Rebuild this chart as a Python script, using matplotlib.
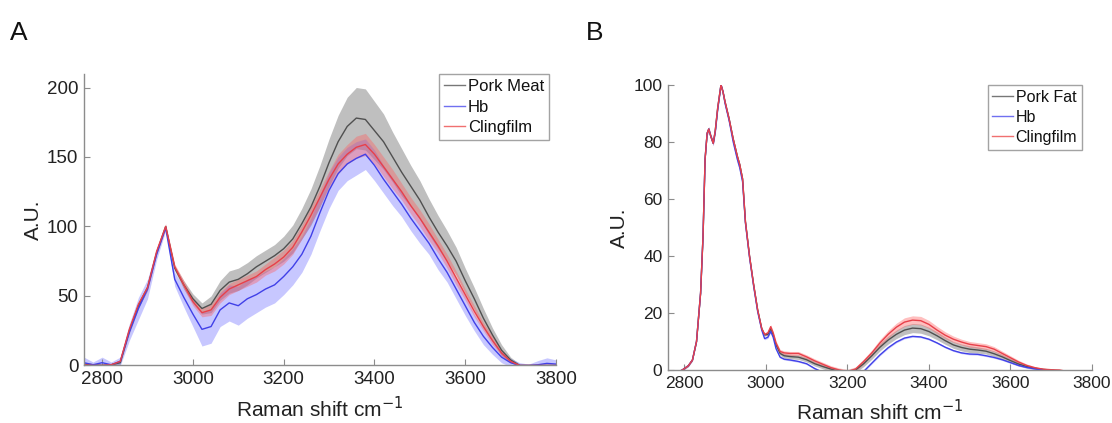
import matplotlib
matplotlib.use("Agg")
import matplotlib.pyplot as plt
from matplotlib.lines import Line2D
import numpy as np

plt.rcParams['font.family'] = ['Liberation Sans', 'DejaVu Sans']

# ---- panel A: pork meat vs Hb vs clingfilm (mean +/- sd) ----
shift_a = [2760, 2780, 2800, 2820, 2840, 2860, 2880, 2900, 2920, 2940,
           2960, 2980, 3000, 3020, 3040, 3060, 3080, 3100, 3120, 3140,
           3160, 3180, 3200, 3220, 3240, 3260, 3280, 3300, 3320, 3340,
           3360, 3380, 3400, 3420, 3440, 3460, 3480, 3500, 3520, 3540,
           3560, 3580, 3600, 3620, 3640, 3660, 3680, 3700, 3720, 3740,
           3760, 3780, 3800]
meat_mean = [1, 0.5, 0, 0.5, 2, 25, 43, 56, 81, 100,
             70, 58, 48, 41, 44, 54, 60, 62, 66, 71,
             75, 79, 84, 91, 102, 114, 129, 146, 161, 172,
             178, 177, 169, 161, 150, 139, 129, 119, 107, 96,
             86, 75, 61, 48, 34, 22, 11, 4, 0, 0,
             0, 0, 0]
meat_sd = [1, 1, 1, 1, 1, 2, 2, 2, 1.5, 1,
           2, 3, 3.5, 4, 6, 7, 8, 8, 8, 8,
           8, 8, 9, 10, 11, 13, 15, 17, 19, 21,
           22, 22, 21, 20, 18, 17, 15, 14, 13, 12,
           11, 10, 9, 8, 7, 5, 4, 2, 1, 0.5,
           0.5, 0.5, 0.5]
hb_a_mean = [2, 0.5, 2, 0.5, 3, 24, 41, 55, 80, 99,
             62, 49, 37, 26, 28, 40, 45, 43, 48, 51,
             55, 58, 64, 71, 80, 93, 110, 126, 138, 145,
             149, 152, 144, 134, 125, 116, 106, 97, 88, 77,
             67, 55, 43, 31, 21, 13, 6, 2, 0, 0,
             0.5, 1.5, 1]
hb_a_sd = [4, 2, 4, 2, 3, 6, 8, 7, 4, 2,
           5, 7, 9, 12, 12, 12, 13, 14, 14, 13,
           13, 13, 13, 13, 13, 13, 13, 13, 12, 12,
           12, 11, 11, 10, 10, 9, 9, 9, 8, 8,
           7, 7, 7, 6, 6, 5, 4, 3, 2, 1,
           3, 4, 3]
film_a_mean = [0.5, 0, 0, 0.5, 3, 26, 44, 56, 82, 100,
               71, 58, 46, 38, 40, 49, 55, 58, 61, 64,
               69, 73, 78, 85, 96, 108, 121, 134, 145, 152,
               157, 159, 152, 143, 134, 125, 115, 106, 96, 86,
               75, 63, 51, 39, 28, 18, 9, 3, 0, 0,
               0, 0, 0]
film_a_sd = [0.8, 0.8, 0.8, 0.8, 0.8, 2, 2, 2, 2, 2,
             2, 3, 3, 3, 4, 4, 4, 4, 4, 4,
             4, 5, 5, 5, 5, 6, 6, 6, 7, 7,
             8, 8, 7, 7, 7, 6, 6, 6, 6, 5,
             5, 5, 4, 4, 3, 3, 2, 1, 0.5, 0.5,
             0.5, 0.5, 0.5]

# ---- panel B: pork fat vs Hb vs clingfilm ----
shift_b = [2760, 2780, 2795, 2810, 2820, 2830, 2840, 2846, 2851, 2856,
           2860, 2865, 2871, 2876, 2882, 2890, 2895, 2900, 2910, 2920,
           2930, 2936, 2943, 2950, 2960, 2970, 2980, 2990, 2997, 3005,
           3012, 3018, 3025, 3035, 3045, 3060, 3080, 3100, 3120, 3140,
           3160, 3180, 3200, 3220, 3240, 3260, 3280, 3300, 3320, 3340,
           3360, 3380, 3400, 3420, 3440, 3460, 3480, 3500, 3520, 3540,
           3560, 3580, 3600, 3620, 3640, 3660, 3680, 3700, 3720, 3740,
           3760, 3780, 3800]
fat_mean = [-2, -1, 0, 1.5, 3.5, 10, 27, 47, 74, 83,
            84.5, 82, 79.5, 84, 92, 100, 97.5, 94, 88, 81,
            75, 72, 67, 52, 40, 30, 21, 14.5, 12.3, 12.5,
            14.5, 12.4, 8.8, 5.8, 5, 4.7, 4.5, 3.6, 2.2, 1.2,
            0.3, -0.5, -1, 0, 2.2, 5, 8, 10.5, 12.5, 14,
            14.7, 14.5, 13.5, 12, 10.3, 8.8, 7.9, 7.3, 7, 6.6,
            5.7, 4.6, 3.3, 2.1, 1.2, 0.6, 0.2, 0, -0.5, -1,
            -1, -1, -1]
fat_sd = [0.3, 0.3, 0.3, 0.3, 0.3, 0.3, 0.3, 0.4, 0.5, 0.5,
          0.5, 0.5, 0.5, 0.5, 0.5, 0.5, 0.5, 0.5, 0.5, 0.5,
          0.5, 0.5, 0.5, 0.4, 0.4, 0.4, 0.4, 0.4, 0.4, 0.4,
          0.5, 0.5, 0.6, 0.7, 0.8, 0.8, 0.8, 0.8, 0.8, 0.8,
          0.8, 0.8, 0.8, 0.9, 1.0, 1.2, 1.3, 1.4, 1.5, 1.6,
          1.6, 1.6, 1.5, 1.4, 1.3, 1.2, 1.2, 1.2, 1.1, 1.0,
          1.0, 0.9, 0.8, 0.7, 0.5, 0.4, 0.3, 0.3, 0.3, 0.3,
          0.3, 0.3, 0.3]
hb_b_mean = [-2, -1, 0, 1.5, 3.5, 10, 27, 47, 74, 83,
             84.5, 82, 79.5, 83.5, 91.5, 100, 97.5, 93.5, 87.5, 80,
             74, 71, 66, 51.5, 39.5, 29.5, 20.5, 14, 11, 11.5,
             13.5, 11.5, 7.5, 4.5, 3.8, 3.5, 3, 2.2, 0.5, -0.8,
             -2, -3, -3, -2, -0.5, 2.4, 5.3, 7.8, 9.8, 11.2,
             11.8, 11.6, 10.8, 9.5, 8, 6.8, 6, 5.6, 5.5, 5,
             4.4, 3.6, 2.6, 1.6, 0.9, 0.4, 0, -0.3, -0.5, -1,
             -1, -1, -1]
hb_b_sd = [0.3, 0.3, 0.3, 0.3, 0.3, 0.3, 0.4, 0.6, 0.8, 0.9,
           0.9, 0.9, 0.9, 0.9, 0.8, 0.6, 0.8, 1.0, 1.2, 1.3,
           1.4, 1.4, 1.2, 0.8, 0.6, 0.5, 0.4, 0.4, 0.4, 0.4,
           0.4, 0.4, 0.4, 0.3, 0.3, 0.3, 0.3, 0.3, 0.3, 0.3,
           0.3, 0.3, 0.3, 0.3, 0.3, 0.3, 0.3, 0.3, 0.3, 0.3,
           0.3, 0.3, 0.3, 0.3, 0.3, 0.3, 0.3, 0.3, 0.3, 0.3,
           0.3, 0.3, 0.3, 0.3, 0.3, 0.3, 0.3, 0.3, 0.3, 0.3,
           0.3, 0.3, 0.3]
film_b_mean = [-2, -1, 0, 1.5, 3.5, 10, 27, 47, 74, 83,
               84.5, 82, 79.5, 84, 92, 100, 97.5, 94, 88, 81,
               75, 72, 67, 52, 40, 30, 21, 14.5, 12.5, 13,
               15.2, 13, 9.5, 6.5, 6, 5.8, 5.8, 4.6, 3.2, 2,
               0.8, 0, -0.5, 0.3, 3, 6, 9.5, 12.5, 15, 16.8,
               17.5, 17.3, 16, 14, 12.2, 10.8, 9.8, 9, 8.6, 8.2,
               7.3, 5.8, 4.3, 2.8, 1.6, 0.8, 0.3, 0.1, 0, -0.5,
               -1, -1, -1]
film_b_sd = [0.3, 0.3, 0.3, 0.3, 0.3, 0.4, 0.5, 0.6, 0.7, 0.8,
             0.8, 0.8, 0.7, 0.7, 0.6, 0.5, 0.6, 0.6, 0.6, 0.6,
             0.6, 0.6, 0.6, 0.5, 0.5, 0.5, 0.5, 0.5, 0.5, 0.6,
             0.7, 0.7, 0.7, 0.7, 0.7, 0.7, 0.7, 0.7, 0.7, 0.7,
             0.7, 0.7, 0.7, 0.8, 0.9, 1.0, 1.2, 1.3, 1.4, 1.5,
             1.5, 1.5, 1.4, 1.3, 1.2, 1.1, 1.0, 1.0, 1.0, 1.0,
             0.9, 0.8, 0.7, 0.6, 0.5, 0.4, 0.3, 0.3, 0.3, 0.3,
             0.3, 0.3, 0.3]

axis_grey = '#8c8c8c'
text_col = '#222222'
# line colour, band colour, band alpha
styles = {
    'grey': ('#505050', '#808080', 0.5),
    'blue': ('#4040e8', '#6060ff', 0.35),
    'red': ('#e8404a', '#ff6060', 0.4),
}


def draw_panel(ax, x, series, labels, ylim, yticks, tick_fs, leg_anchor, leg_fs):
    x = np.array(x)
    for (m, s), key in zip(series, ['grey', 'blue', 'red']):
        m = np.array(m); s = np.array(s)
        ax.fill_between(x, m - s, m + s, color=styles[key][1],
                        alpha=styles[key][2], lw=0)
    for (m, s), key in zip(series, ['grey', 'blue', 'red']):
        ax.plot(x, m, color=styles[key][0], lw=1.0)

    ax.set_xlim(2760, 3800)
    ax.set_ylim(*ylim)
    ax.set_xticks([2800, 3000, 3200, 3400, 3600, 3800])
    ax.set_yticks(yticks)
    for side in ['top', 'right']:
        ax.spines[side].set_visible(False)
    for side in ['left', 'bottom']:
        ax.spines[side].set_color(axis_grey)
        ax.spines[side].set_linewidth(1.0)
    ax.tick_params(direction='in', length=4, width=0.8, color=axis_grey,
                   labelsize=tick_fs, labelcolor=text_col, pad=4)
    ax.set_xlabel('Raman shift cm$^{-1}$', fontsize=15, color=text_col, labelpad=6)
    ax.set_ylabel('A.U.', fontsize=15, color=text_col, labelpad=3)

    handles = [Line2D([], [], color='#777777', lw=1.0),
               Line2D([], [], color='#7070f0', lw=1.0),
               Line2D([], [], color='#f07070', lw=1.0)]
    leg = ax.legend(handles, labels, loc='upper right', bbox_to_anchor=leg_anchor,
                    borderaxespad=0, fontsize=leg_fs, frameon=True, fancybox=False,
                    edgecolor=axis_grey, handlelength=1.3, handletextpad=0.15,
                    borderpad=0.3, labelspacing=0.32)
    leg.get_frame().set_linewidth(1.0)
    for t in leg.get_texts():
        t.set_color('#111111')


fig = plt.figure(figsize=(11.12, 4.23), dpi=100)
ax_a = fig.add_axes([0.0755, 0.136, 0.4245, 0.690])
ax_b = fig.add_axes([0.6007, 0.1253, 0.3813, 0.674])

draw_panel(ax_a, shift_a,
           [(meat_mean, meat_sd), (hb_a_mean, hb_a_sd), (film_a_mean, film_a_sd)],
           ['Pork Meat', 'Hb', 'Clingfilm'], (0, 210), [0, 50, 100, 150, 200],
           13.5, (0.985, 0.998), 12)
draw_panel(ax_b, shift_b,
           [(fat_mean, fat_sd), (hb_b_mean, hb_b_sd), (film_b_mean, film_b_sd)],
           ['Pork Fat', 'Hb', 'Clingfilm'], (0, 100), [0, 20, 40, 60, 80, 100],
           12.5, (0.976, 1.0), 11.5)

fig.text(0.009, 0.905, 'A', fontsize=19, color='#111111')
fig.text(0.527, 0.905, 'B', fontsize=19, color='#111111')

fig.savefig('out.png', dpi=100, facecolor='white')
